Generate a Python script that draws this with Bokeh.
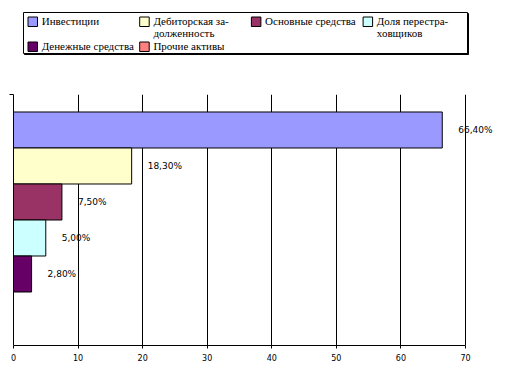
from bokeh.plotting import figure
from bokeh.models import Range1d, FixedTicker
from bokeh.layouts import column
from bokeh.core.properties import value
from bokeh.embed import file_html
from bokeh.resources import INLINE

# ---- data ----
categories = ["Инвестиции", "Дебиторская за-\nдолженность", "Основные средства",
              "Доля перестра-\nховщиков", "Денежные средства", "Прочие активы"]
values = [66.4, 18.3, 7.5, 5.0, 2.8, 0.0]
value_labels = ["66,40%", "18,30%", "7,50%", "5,00%", "2,80%", ""]
colors = ["#9999FF", "#FFFFCC", "#993366", "#CCFFFF", "#660066", "#FF8080"]
x_ticks = [0, 10, 20, 30, 40, 50, 60, 70]

# ---- layout constants ----
n = len(values)
pad = 0.486
frame_left = 13
frame_w, frame_h = 499, 251
px_per_unit = 452 / 70
y_bottom = -0.5 - pad
y_top = n - 0.5 + pad
ypos = [n - 1 - i for i in range(n)]
lw, lh = frame_left + frame_w, 62

# ---- main chart ----
p = figure(frame_width=frame_w, frame_height=frame_h,
           x_range=Range1d(0, frame_w / px_per_unit),
           y_range=Range1d(y_bottom, y_top),
           output_backend="svg", toolbar_location=None,
           min_border_left=frame_left, min_border_right=0, min_border_top=94 - lh,
           min_border_bottom=17)
p.outline_line_color = None
p.background_fill_color = "white"
p.border_fill_color = "white"

p.hbar(y=ypos, left=0, right=values, height=1.0, fill_color=colors,
       line_color="black", line_width=1)
p.text(x=values, y=ypos, text=value_labels, x_offset=16, text_baseline="middle",
       text_align="left", text_font=value("DejaVu Sans"), text_font_size="9px",
       text_color="black")

p.xaxis.ticker = FixedTicker(ticks=x_ticks)
p.xaxis.bounds = (0, 70)
p.xaxis.major_tick_in = 0
p.xaxis.major_tick_out = 3
p.xaxis.minor_tick_line_color = None
p.xaxis.major_label_text_font = "DejaVu Sans"
p.xaxis.major_label_text_font_size = "8px"
p.xaxis.major_label_text_color = "black"
p.xaxis.major_label_standoff = 5
p.xaxis.axis_line_color = "black"
p.xaxis.major_tick_line_color = "black"

p.xgrid.ticker = FixedTicker(ticks=x_ticks)
p.xgrid.grid_line_color = "black"
p.ygrid.visible = False

p.yaxis.ticker = FixedTicker(ticks=[y_top])
p.yaxis.major_label_overrides = {y_top: ""}
p.yaxis.major_label_text_font_size = "0px"
p.yaxis.major_label_standoff = 0
p.yaxis.major_tick_in = 0
p.yaxis.major_tick_out = 4
p.yaxis.minor_tick_line_color = None
p.yaxis.axis_line_color = "black"
p.yaxis.major_tick_line_color = "black"

# ---- legend (separate figure; its frame is aligned with the chart frame,
#      so the x range is set so that x equals the pixel column) ----
lg = figure(width=lw, height=lh, x_range=Range1d(frame_left, lw), y_range=Range1d(lh, 0),
            x_axis_location=None, y_axis_location=None,
            output_backend="svg", toolbar_location=None, min_border=0,
            min_border_left=frame_left)
lg.grid.visible = False
lg.outline_line_color = None
lg.background_fill_color = "white"
lg.border_fill_color = "white"

box_l, box_r, box_t, box_b = 23, 467, 12, 53
lg.quad(left=box_l + 1, right=box_r + 1, top=box_t + 1, bottom=box_b + 1,
        fill_color="black", line_color="black")
lg.quad(left=box_l, right=box_r, top=box_t, bottom=box_b,
        fill_color="white", line_color="black", line_width=1)

ncols = 4
col_x0, col_step = 27.5, 111.7
row_y0, row_step = 16.5, 25
sw = 9.5
line_step = 11.5
sl, sr, st, sb = [], [], [], []
tx, ty, tt = [], [], []
for i, name in enumerate(categories):
    c, r = i % ncols, i // ncols
    x0 = col_x0 + c * col_step
    y0 = row_y0 + r * row_step
    sl.append(x0); sr.append(x0 + sw); st.append(y0); sb.append(y0 + sw)
    for k, line in enumerate(name.split("\n")):
        tx.append(x0 + 13.7)
        ty.append(y0 + 4.2 + k * line_step)
        tt.append(line)
lg.quad(left=sl, right=sr, top=st, bottom=sb, fill_color=colors, line_color="black")
lg.text(x=tx, y=ty, text=tt, text_baseline="middle", text_align="left",
        text_font=value("Liberation Serif"), text_font_size="11px", text_color="black")

layout = column(lg, p, spacing=0)
open("out.html", "w").write(file_html(layout, INLINE))
